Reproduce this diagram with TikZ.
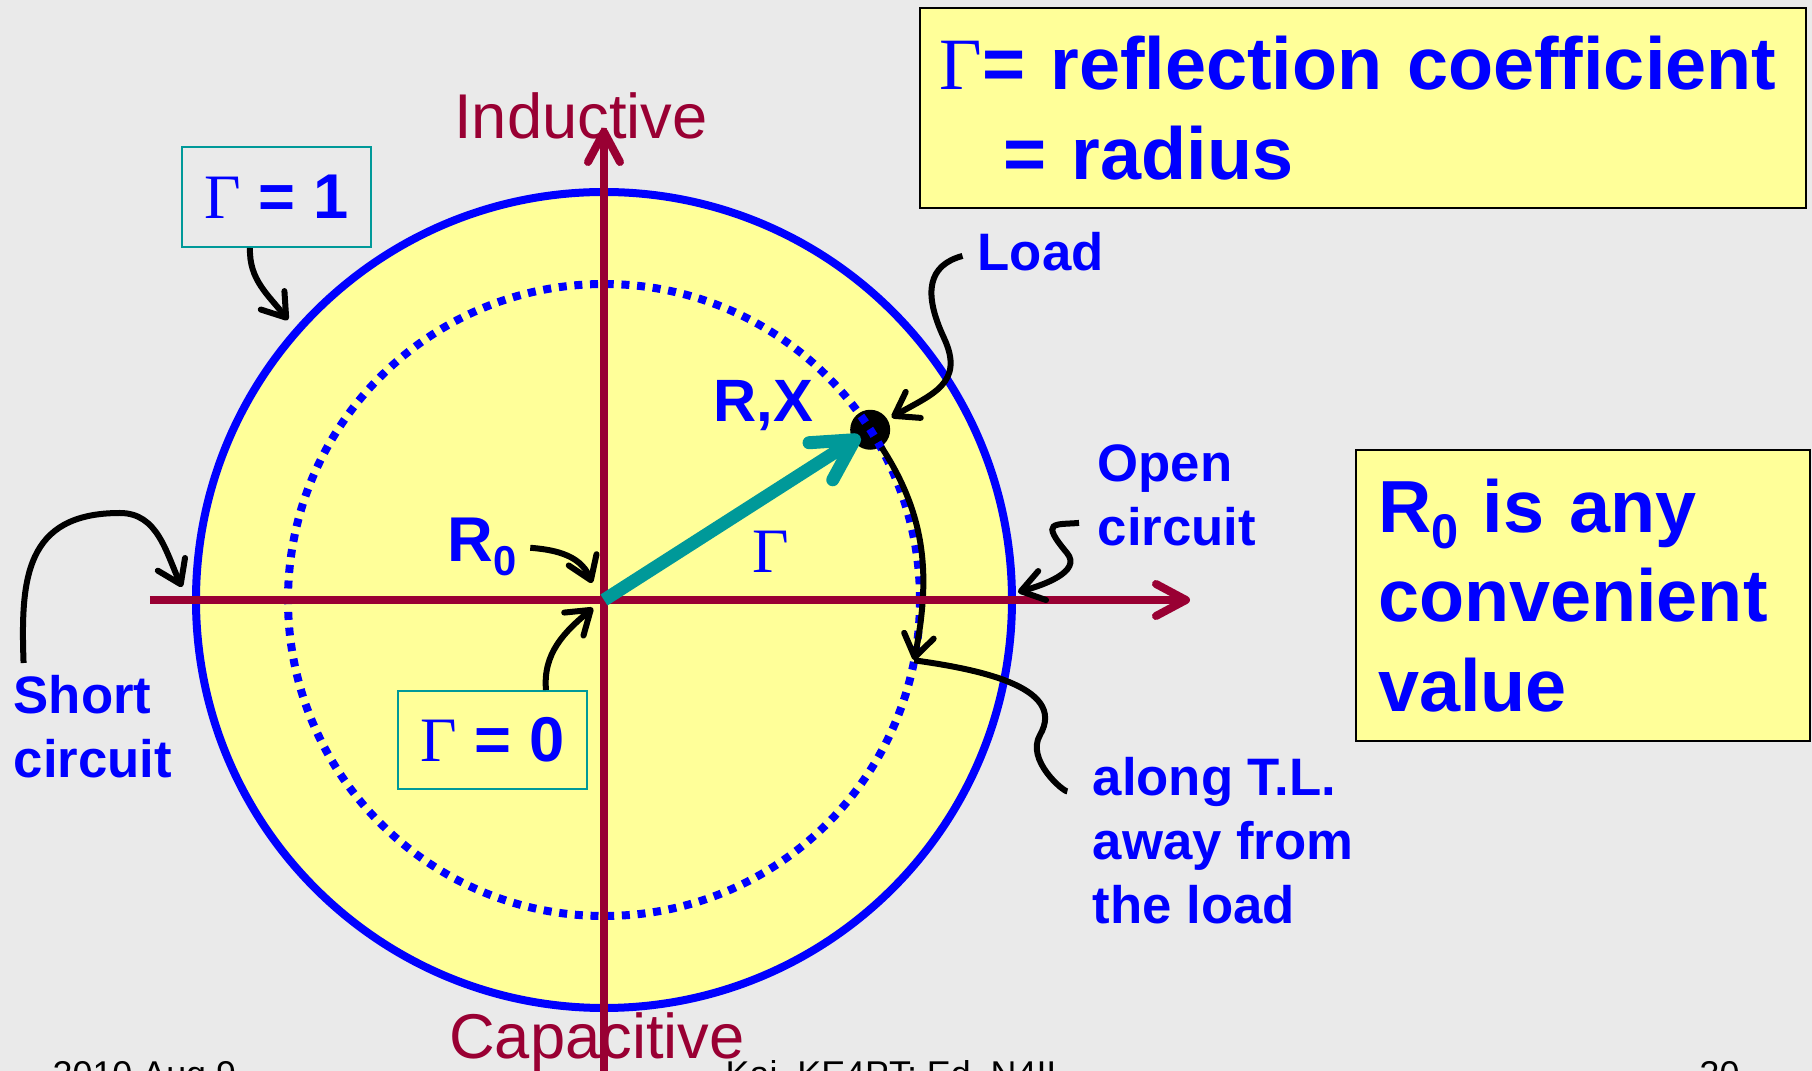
\documentclass[tikz,border=0pt]{standalone}
\usepackage{fontspec}
\setmainfont{Liberation Sans}
\newfontfamily\grfont{Liberation Serif}
\usepackage{graphicx}
\usetikzlibrary{arrows.meta,positioning,calc}
\definecolor{slideBg}{RGB}{234,234,234}
\definecolor{chartY}{RGB}{255,255,153}
\definecolor{pureB}{RGB}{0,0,255}
\definecolor{axisM}{RGB}{153,0,51}
\definecolor{gamT}{RGB}{0,153,153}
\newcommand{\lowsub}[1]{\raisebox{-0.22em}{\scalebox{0.66}{#1}}}

\begin{document}
\begin{tikzpicture}[
  ptr/.style={line width=0.6mm, -{Straight Barb[length=2.2mm,width=3mm,round]}},
  callout/.style={line width=0.6mm},
  lbl/.style={inner sep=0pt, text=pureB, align=left, font=\bfseries\fontsize{15}{18.2}\selectfont},
  axlbl/.style={inner sep=0pt, text=axisM, font=\fontsize{18}{21}\selectfont},
  gbox/.style={draw=gamT, line width=0.2mm, text=pureB, minimum width=1.89cm,
               font=\bfseries\fontsize{18}{21}\selectfont},
  ybox/.style={draw=black, line width=0.25mm, fill=chartY, text=pureB, align=left,
               font=\bfseries\fontsize{21}{25.5}\selectfont},
  ax/.style={line width=0.8mm, axisM, -{Straight Barb[length=3mm,width=3.2mm,round]}},
  foot/.style={inner sep=0pt, anchor=base west, font=\fontsize{10.2}{12}\selectfont}]
  \useasboundingbox (-6.04,-4.71) rectangle (12.08,6.00);
  \fill[slideBg] (-6.04,-4.71) rectangle (12.08,6.00);

  \draw[pureB, line width=0.8mm, fill=chartY] (0,0) circle (4.08);
  \node[circle, fill=black, inner sep=0pt, minimum size=4mm] (ld) at (32.6:3.16) {};
  \draw[pureB, line width=0.8mm, dash pattern=on 0.8mm off 0.77mm] (0,0) circle (3.16);

  \coordinate (o) at (0,0);
  \coordinate (xl) at (-4.54,0);
  \coordinate (xr) at (5.86,0);
  \coordinate (yb) at (0,-4.9);
  \coordinate (yt) at (0,4.72);
  \coordinate (tltip) at (-11:3.16);
  \coordinate (tlmid) at (4.36,-1.35);
  \coordinate (g1tip) at (-3.16,2.80);
  \coordinate (scmid) at (-4.84,0.87);
  \coordinate (sctip) at (-4.22,0.13);
  \coordinate (ocmid) at (4.63,0.47);
  \coordinate (octip) at (4.14,0.08);
  \coordinate (ldmid) at (3.40,2.62);
  \coordinate (r0tip) at (-0.12,0.17);
  \coordinate (g0tip) at (-0.11,-0.08);

  \draw[ptr] (ld) to[out=-57,in=79] (tltip);
  \draw[ax] (xl) -- (xr);
  \draw[ax] (yb) -- (yt);
  \draw[line width=1.3mm, gamT, -{Straight Barb[length=4mm,width=4.4mm,round]},
        shorten >=1.2mm] (o) -- (ld.center);

  \node[axlbl, anchor=base] (ind) at (-0.23,4.61) {Inductive};
  \node[axlbl, anchor=base] (cap) at (-0.07,-4.59) {Capacitive};

  \node[gbox, minimum height=1.0cm] (g1) at (-3.275,4.03) {{\grfont\mdseries Γ} = 1};
  \node[gbox, minimum height=0.98cm] (g0) at (-1.115,-1.40) {{\grfont\mdseries Γ} = 0};

  \node[ybox, minimum width=8.86cm, minimum height=2cm, text width=8.46cm, inner xsep=0.2cm]
    (defbox) at (7.59,4.92) {{\grfont\mdseries Γ}= reflection coefficient\\\hspace*{6.4mm}= radius};
  \node[ybox, minimum width=4.54cm, minimum height=2.91cm, text width=4.10cm, inner xsep=0.22cm]
    (r0box) at (9.79,0.045) {R\lowsub{0} is any\\convenient\\value};

  \node[lbl, anchor=north west] (sc) at (-5.91,-0.75) {Short\\circuit};
  \node[lbl, anchor=north west] (oc) at (4.93,1.56) {Open\\circuit};
  \node[lbl, anchor=north west] (alongtl) at (4.88,-1.57) {along T.L.\\away from\\the load};
  \node[lbl, anchor=north west] (load) at (3.73,3.68) {Load};
  \node[lbl, anchor=north west, font=\bfseries\fontsize{17}{20}\selectfont] (rx) at (1.09,2.20) {R,X};
  \node[lbl, anchor=north west, font=\bfseries\fontsize{18}{21}\selectfont] (r0) at (-1.57,0.83) {R\lowsub{0}};
  \node[lbl, anchor=base west, font=\grfont\fontsize{18}{21}\selectfont] (gam) at (1.48,0.27) {Γ};

  \draw[ptr] ([xshift=-2.65mm]g1.south) to[out=-92,in=128] (g1tip);
  \draw[ptr, shorten <=1.2mm] ([xshift=1.1mm]sc.north west) to[out=92,in=180,looseness=1.3] (scmid)
    to[out=0,in=115] (sctip);
  \draw[ptr, shorten <=1.8mm] ([yshift=-2.6mm]oc.west) to[out=185,in=130,looseness=2.5] (ocmid)
    to[out=-50,in=15] (octip);
  \draw[ptr, shorten <=1.5mm, shorten >=0.4mm] (load.west) to[out=195,in=115,looseness=1.4] (ldmid)
    to[out=-65,in=30,looseness=1.3] (ld);
  \draw[ptr, shorten <=1.3mm] (r0.east) to[out=-5,in=112] (r0tip);
  \draw[ptr] ([xshift=5.35mm]g0.north) to[out=95,in=220] (g0tip);
  \draw[callout, shorten <=2.5mm] ([yshift=-3mm]alongtl.north west) to[out=190,in=-120] (tlmid)
    to[out=60,in=-8] (tltip);

  \node[foot] (date) at (-5.52,-4.87) {2010 Aug 9};
  \node[foot] (auth) at (1.21,-4.87) {Kai, KE4PT; Ed, N4II};
  \node[foot] (pg) at (10.95,-4.87) {30};
\end{tikzpicture}
\end{document}
